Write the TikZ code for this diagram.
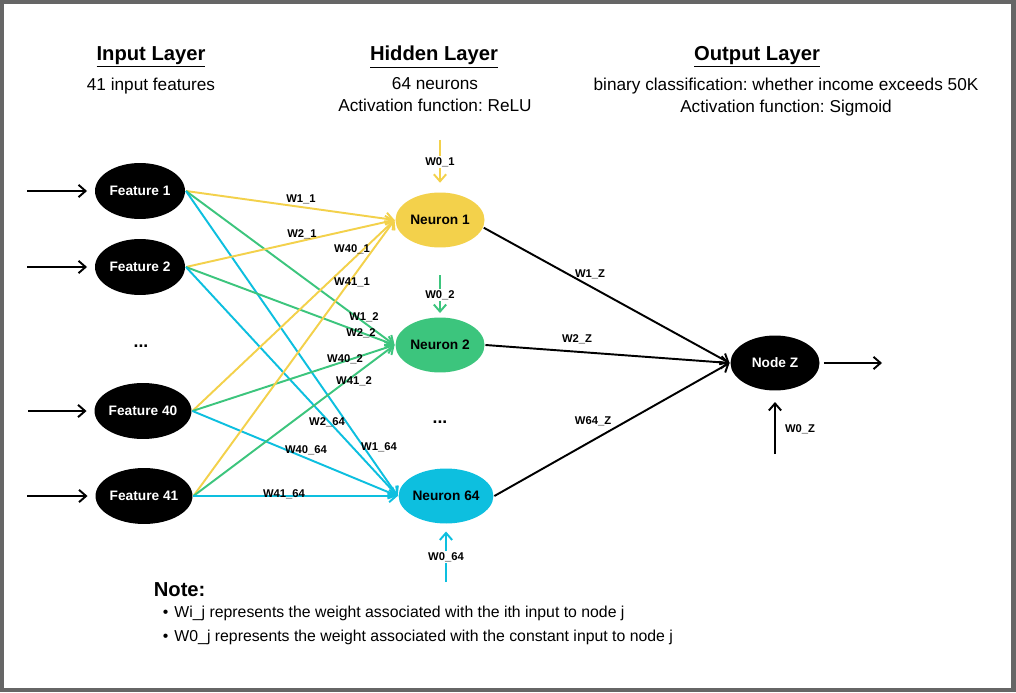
\documentclass[tikz,border=0pt]{standalone}
\usepackage{fontspec}
\setmainfont{Liberation Sans}
\usetikzlibrary{shapes.geometric,arrows.meta}

\definecolor{nyellow}{HTML}{F3D14B}
\definecolor{ngreen}{HTML}{3CC57D}
\definecolor{ncyan}{HTML}{0DBFDF}
\definecolor{framegray}{HTML}{666666}

\begin{document}
\frenchspacing
\begin{tikzpicture}[x=0.02cm, y=-0.02cm, >={Straight Barb[length=4pt,width=7pt]}, line width=1.1pt,
  feat/.style={ellipse, fill=black, text=white, inner sep=0pt, minimum width=1.8cm, minimum height=1.12cm,
    font=\bfseries\fontsize{7.8}{9}\selectfont},
  neuron/.style={ellipse, inner sep=0pt, minimum width=1.78cm, minimum height=1.1cm,
    font=\bfseries\fontsize{7.8}{9}\selectfont},
  wlab/.style={inner sep=1pt, font=\bfseries\fontsize{6.4}{7}\selectfont},
  ttl/.style={font=\bfseries\fontsize{11.5}{13}\selectfont},
  sub/.style={align=center, font=\fontsize{9.8}{12.5}\selectfont},
  wire/.style={->, line width=1.1pt}]

  % frame
  \fill[framegray] (0,0) rectangle (1016,692);
  \fill[white] (4,4) rectangle (1011,688);

  % layer headings
  \node[ttl] (tin) at (151,57) {\underline{Input Layer}};
  \node[sub] (sin) at (151,86) {41 input features};
  \node[ttl] (thid) at (434,57) {\underline{Hidden Layer}};
  \node[sub] (shid) at (435,95) {64 neurons\\Activation function: ReLU};
  \node[ttl] (tout) at (757,57) {\underline{Output Layer}};
  \node[sub] (sout) at (786,97) {binary classification: whether income exceeds 50K\\Activation function: Sigmoid};

  % input layer
  \node[feat] (f1) at (140,191) {Feature 1};
  \node[feat] (f2) at (140,267) {Feature 2};
  \node[font=\bfseries\fontsize{10}{10}\selectfont] (fdots) at (141,346) {...};
  \node[feat] (f40) at (143,411) {Feature 40};
  \node[feat] (f41) at (144,496) {Feature 41};

  \coordinate (in1) at (27,191);
  \coordinate (in2) at (27,267);
  \coordinate (in40) at (28,411);
  \coordinate (in41) at (27,496);
  \foreach \i in {1,2,40,41}
    \draw[->, shorten >=4pt] (in\i) -- (f\i);

  % hidden layer
  \node[neuron, fill=nyellow] (n1) at (440,220) {Neuron 1};
  \node[neuron, fill=ngreen] (n2) at (440,345) {Neuron 2};
  \node[font=\bfseries\fontsize{10}{10}\selectfont] (ndots) at (440,422) {...};
  \node[neuron, fill=ncyan] (n64) at (446,496) {Neuron 64};

  % weights input -> hidden
  \foreach \i in {1,2,40,41} {
    \draw[wire, nyellow] (f\i.east) -- (n1.west);
    \draw[wire, ngreen] (f\i.east) -- (n2.west);
    \draw[wire, ncyan] (f\i.east) -- (n64.west);
  }

  \node[wlab] (w11) at (301,199) {W1\_1};
  \node[wlab] (w21) at (302,234) {W2\_1};
  \node[wlab] (w401) at (352,249) {W40\_1};
  \node[wlab] (w411) at (352,282) {W41\_1};
  \node[wlab] (w12) at (364,317) {W1\_2};
  \node[wlab] (w22) at (361,333) {W2\_2};
  \node[wlab] (w402) at (345,359) {W40\_2};
  \node[wlab] (w412) at (354,381) {W41\_2};
  \node[wlab] (w264) at (327,422) {W2\_64};
  \node[wlab] (w164) at (379,447) {W1\_64};
  \node[wlab] (w4064) at (306,450) {W40\_64};
  \node[wlab] (w4164) at (284,494) {W41\_64};

  % bias inputs of the neurons
  \coordinate (b1) at (440,140);
  \coordinate (b2) at (440,275);
  \coordinate (b64) at (446,582);
  \draw[wire, nyellow, shorten >=5pt] (b1) -- (n1);
  \draw[wire, ngreen, shorten >=2pt] (b2) -- (n2);
  \draw[wire, ncyan, shorten >=4pt] (b64) -- (n64);
  \node[wlab, fill=white] (w01) at (440,162) {W0\_1};
  \node[wlab, fill=white] (w02) at (440,295) {W0\_2};
  \node[wlab, fill=white] (w064) at (446,557) {W0\_64};

  % output layer
  \node[neuron, fill=black, text=white] (z) at (775,363) {Node Z};
  \draw[->] (n1.-10) -- (z.west);
  \draw[->] (n2.east) -- (z.west);
  \draw[->] (n64.east) -- (z.west);
  \node[wlab] (w1z) at (590,274) {W1\_Z};
  \node[wlab] (w2z) at (577,339) {W2\_Z};
  \node[wlab] (w64z) at (593,421) {W64\_Z};

  \coordinate (out) at (882,363);
  \draw[->, shorten <=2pt] (z) -- (out);
  \coordinate (b0z) at (775,454);
  \draw[->, shorten >=6pt] (b0z) -- (z);
  \node[wlab] (w0z) at (800,429) {W0\_Z};

  % note
  \node[anchor=west, font=\bfseries\fontsize{11.5}{13}\selectfont] (note) at (147,590) {Note:};
  \node[anchor=west, font=\fontsize{9}{13.6}\selectfont, align=left] (items) at (156,625)
    {\textbullet\hspace{3.5pt}Wi\_j represents the weight associated with the ith input to node j\\
     \textbullet\hspace{3.5pt}W0\_j represents the weight associated with the constant input to node j};
\end{tikzpicture}
\end{document}
